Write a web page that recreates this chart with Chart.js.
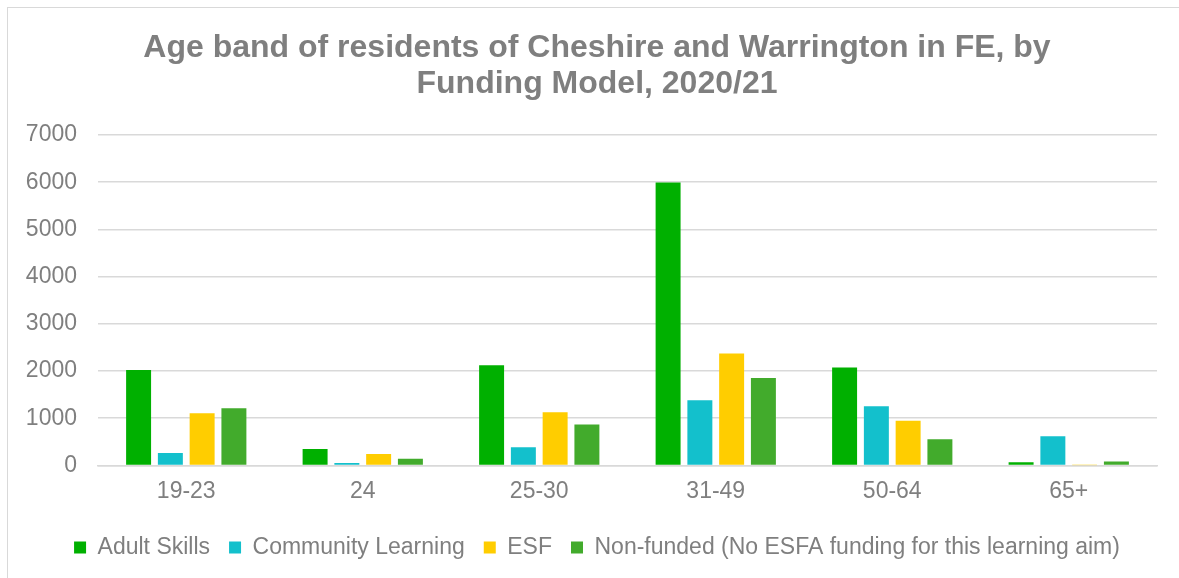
<!DOCTYPE html>
<html>
<head>
    <title>Age band of residents of Cheshire and Warrington in FE</title>
    <script src="https://cdn.jsdelivr.net/npm/chart.js"></script>
    <style>
        body { margin: 0; background: #fff; overflow: hidden; }
        #frame {
            position: absolute; left: 7px; top: 7px;
            width: 1178px; height: 570px;
            border-left: 1px solid #d9d9d9; border-top: 1px solid #d9d9d9;
        }
    </style>
</head>
<body>
    <div id="frame"><canvas id="fundingChart"></canvas></div>
    <script>
        // values
        const ageBands = ['19-23', '24', '25-30', '31-49', '50-64', '65+'];
        const adultSkills = [2020, 345, 2120, 5995, 2075, 65];
        const communityLearning = [265, 50, 385, 1380, 1255, 615];
        const esf = [1105, 240, 1125, 2370, 945, 5];
        const nonFunded = [1210, 140, 865, 1850, 555, 85];
        const yTicks = [0, 1000, 2000, 3000, 4000, 5000, 6000, 7000];

        const grey = '#7f7f7f';
        const fontFamily = '"Liberation Sans", Arial, sans-serif';

        new Chart(document.getElementById('fundingChart'), {
            type: 'bar',
            data: {
                labels: ageBands,
                datasets: [
                    { label: 'Adult Skills', data: adultSkills, backgroundColor: '#00b000' },
                    { label: 'Community Learning', data: communityLearning, backgroundColor: '#13c0cc' },
                    { label: 'ESF', data: esf, backgroundColor: '#ffcd00' },
                    { label: 'Non-funded (No ESFA funding for this learning aim)', data: nonFunded, backgroundColor: '#42ab2c' }
                ]
            },
            options: {
                responsive: true,
                maintainAspectRatio: false,
                animation: false,
                categoryPercentage: 0.72,
                barPercentage: 0.786,
                layout: { padding: { left: 0, right: 0, bottom: 9 } },
                plugins: {
                    title: {
                        display: true,
                        text: ['Age band of residents of Cheshire and Warrington in FE, by', 'Funding Model, 2020/21'],
                        color: grey,
                        font: { family: fontFamily, size: 32, weight: 'bold', lineHeight: 1.125 },
                        padding: { top: 22, bottom: 33 }
                    },
                    legend: {
                        position: 'bottom',
                        labels: {
                            color: grey,
                            font: { family: fontFamily, size: 23 },
                            boxWidth: 12,
                            boxHeight: 12,
                            padding: 19
                        }
                    },
                    tooltip: { enabled: false }
                },
                scales: {
                    x: {
                        grid: { display: false, drawTicks: false },
                        border: { color: '#d9d9d9', width: 1.5 },
                        ticks: { color: grey, font: { family: fontFamily, size: 23 }, padding: 12 }
                    },
                    y: {
                        min: 0,
                        max: 7000,
                        afterBuildTicks: axis => { axis.ticks = yTicks.map(v => ({ value: v })); },
                        afterFit: axis => { axis.width = 90; },
                        grid: { color: '#d9d9d9', lineWidth: 1.5, drawTicks: false },
                        border: { display: false },
                        ticks: {
                            color: grey,
                            font: { family: fontFamily, size: 23 },
                            padding: 21,
                            callback: value => String(value)
                        }
                    },
                    // empty right margin so the title and legend centre like the original
                    yRight: {
                        position: 'right',
                        min: 0,
                        max: 7000,
                        afterFit: axis => { axis.width = 29; },
                        grid: { display: false, drawTicks: false },
                        border: { display: false },
                        ticks: { display: false }
                    }
                }
            }
        });
    </script>
</body>
</html>
